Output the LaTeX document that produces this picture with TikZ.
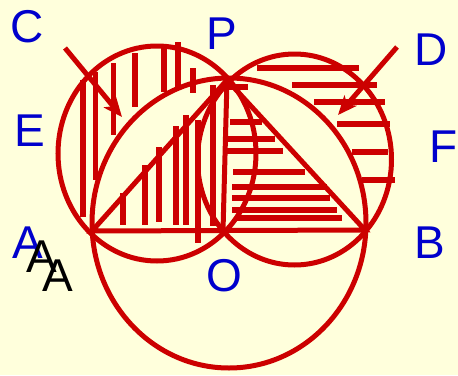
\documentclass[tikz,border=0pt]{standalone}
\usepackage{fontspec}
\setmainfont{Liberation Sans}
\usetikzlibrary{arrows.meta}
\definecolor{bgyellow}{HTML}{FFFFDC}
\definecolor{figred}{HTML}{CC0000}
\definecolor{labblue}{HTML}{0000CC}
\tikzset{
  geo/.style={draw=figred, line width=5pt},
  hatchline/.style={draw=figred, line width=5.5pt},
  pointer/.style={geo, -{Stealth[length=19pt,width=16pt,inset=5pt]}},
  lbl/.style={text=labblue, font=\fontsize{46}{46}\selectfont, anchor=base, inner sep=0pt},
  lblk/.style={lbl, text=black}
}
\begin{document}
\begin{tikzpicture}[x=1pt,y=-1pt]
\fill[bgyellow] (0,0) rectangle (458,375);
\useasboundingbox (0,0) rectangle (458,375);
% points
\coordinate (A) at (92,231);
\coordinate (B) at (365,230);
\coordinate (P) at (227,80);
\coordinate (O) at (223,231);
\coordinate (cBig) at (229,223);
\coordinate (cLeft) at (157,153.5);
\coordinate (cRight) at (294.5,159.5);
\coordinate (Cs) at (65,48);
\coordinate (Ct) at (122,117);
\coordinate (Ds) at (397,47);
\coordinate (Dt) at (338,115);
% left lune hatching (vertical)
\foreach \x/\a/\b in {83/80/217, 95.5/72/180, 113.5/63/135, 135/53/107, 164/48/92, 178/42/88, 193/68/93}
  \draw[hatchline] (\x,\a) -- (\x,\b);
% left triangle hatching (vertical)
\foreach \x/\a/\b in {123/193/225, 145/165/225, 159/147/222, 176/126/225, 186/115/225, 198/120/243, 213/85/226}
  \draw[hatchline] (\x,\a) -- (\x,\b);
% right lune hatching (horizontal)
\foreach \y/\a/\b in {68/257/359, 85/292/377, 102/314/385, 124/337/390, 152/352/388, 180/362/395, 87/222/248}
  \draw[hatchline] (\a,\y) -- (\b,\y);
% right triangle hatching (horizontal)
\foreach \y/\a/\b in {122/230/262, 139/228/275, 151/225/283, 172/233/305, 187/232/327, 198/232/330, 210/232/337, 218/237/342}
  \draw[hatchline] (\a,\y) -- (\b,\y);
% circles
\draw[geo] (cBig) ellipse [x radius=137pt, y radius=145pt];
\draw[geo] (cLeft) ellipse [x radius=99pt, y radius=107.5pt];
\draw[geo] (cRight) ellipse [x radius=97pt, y radius=105.5pt];
% triangle and altitude
\draw[geo, line join=miter] (A) -- (P) -- (B) -- cycle;
\draw[geo] (P) -- (O);
% arrows
\draw[pointer] (Cs) -- (Ct);
\draw[pointer] (Ds) -- (Dt);
% labels
\node[lbl] (lC) at (27.5,42.5) {C};
\node[lbl] (lE) at (29.5,146) {E};
\node[lbl] (lP) at (222,49.5) {P};
\node[lbl] (lD) at (431,65) {D};
\node[lbl] (lF) at (444,162) {F};
\node[lbl] (lB) at (429.5,258) {B};
\node[lbl] (lO) at (224,291) {O};
\node[lbl] (lA) at (28,258) {A};
\node[lblk] (lA1) at (41.5,272) {A};
\node[lblk] (lA2) at (58,291) {A};
\end{tikzpicture}
\end{document}
